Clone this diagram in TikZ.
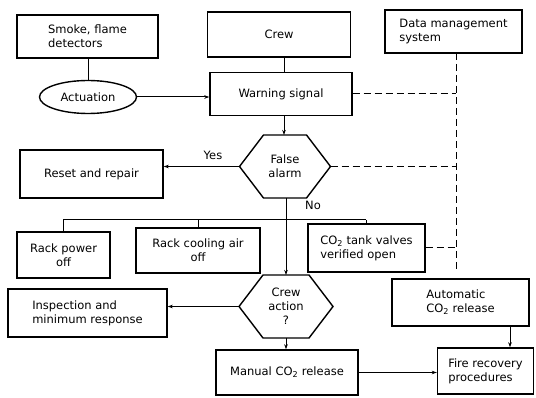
\documentclass[tikz,border=0pt]{standalone}
\usepackage{fontspec}
\setmainfont{DejaVu Sans}
\usetikzlibrary{shapes.geometric,arrows.meta}
\begin{document}
\begin{tikzpicture}[x=1pt,y=-1pt,
  every node/.style={font=\fontsize{11.5}{14}\selectfont},
  box/.style={draw,line width=1.4pt,inner sep=2pt,align=left},
  cbox/.style={draw,line width=1.4pt,inner sep=2pt,align=center},
  hexlbl/.style={draw=none,inner sep=0pt,outer sep=0pt,align=center},
  hexline/.style={line width=1.4pt,line join=miter},
  conn/.style={line width=1pt},
  arr/.style={line width=1pt,-{Stealth[length=5pt,width=3.5pt]}},
  dataline/.style={line width=1pt,dash pattern=on 7pt off 4pt},
  lbl/.style={inner sep=0pt}]
\useasboundingbox (0,0) rectangle (536,398);
% nodes
\node[box,minimum width=141,minimum height=43] (smoke) at (87.5,36.5) {Smoke, flame\\detectors};
\node[draw,ellipse,line width=1.4pt,minimum width=97,minimum height=33,inner sep=0pt] (act) at (88,97) {Actuation};
\node[cbox,minimum width=143,minimum height=45] (crew) at (279,34.5) {Crew};
\node[cbox,minimum width=142,minimum height=43] (warn) at (281,94) {Warning signal};
\node[box,minimum width=137,minimum height=43] (dms) at (453.5,31.5) {Data management\\system};
\node[hexlbl,minimum width=91,minimum height=63] (fa) at (285,166.5) {False\\alarm};
\draw[hexline] (fa.west) -- ([xshift=24pt]fa.north west) -- ([xshift=-24pt]fa.north east) -- (fa.east) -- ([xshift=-24pt]fa.south east) -- ([xshift=24pt]fa.south west) -- cycle;
\node[cbox,minimum width=143,minimum height=48] (reset) at (91.5,174) {Reset and repair};
\node[cbox,minimum width=93,minimum height=46] (rp) at (63.5,255) {Rack power\\off};
\node[cbox,minimum width=124,minimum height=45] (rc) at (198,250.5) {Rack cooling air\\off};
\node[box,minimum width=117,minimum height=48] (co2t) at (366.5,248) {CO\textsubscript{2} tank valves\\verified open};
\node[hexlbl,minimum width=94,minimum height=63] (ca) at (286,306.5) {Crew\\action\\?};
\draw[hexline] (ca.west) -- ([xshift=24pt]ca.north west) -- ([xshift=-24pt]ca.north east) -- (ca.east) -- ([xshift=-24pt]ca.south east) -- ([xshift=24pt]ca.south west) -- cycle;
\node[box,minimum width=159,minimum height=48] (insp) at (87.5,313) {Inspection and\\minimum response};
\node[cbox,minimum width=142,minimum height=45] (man) at (287,372.5) {Manual CO\textsubscript{2} release};
\node[box,minimum width=137,minimum height=47] (auto) at (460.5,302.5) {Automatic\\CO\textsubscript{2} release};
\node[box,minimum width=96,minimum height=46] (fire) at (485.5,371) {Fire recovery\\procedures};
% coordinates
\coordinate (dtop) at (456,53);
\coordinate (dbot) at (456,272);
\coordinate (split) at (286,220);
\coordinate (bl) at (63,220);
\coordinate (br) at (366,220);
% connectors
\draw[conn] (smoke.south -| act.north) -- (act.north);
\draw[arr] (act.east) -- (warn.west |- act.east);
\draw[conn] (crew.south -| 284,0) -- (warn.north -| 284,0);
\draw[arr] (warn.south -| 284,0) -- (fa.north -| 284,0);
\draw[arr] (fa.west) -- (reset.east |- fa.west) node[lbl,pos=0.35,above=6pt] {Yes};
\draw[arr] (fa.south -| ca.north) -- (ca.north);
\node[lbl] (no) at (313,205) {No};
\draw[conn] (bl) -- (br);
\draw[conn] (bl) -- (rp.north -| bl);
\draw[conn] (rc.north |- split) -- (rc.north);
\draw[conn] (br) -- (co2t.north -| br);
\draw[arr] (ca.west) -- (insp.east |- ca.west);
\draw[arr] (ca.south) -- (man.north -| ca.south);
\draw[arr] (man.east) -- (fire.west |- man.east);
\draw[arr] (auto.south -| 510,0) -- (fire.north -| 510,0);
% dashed data links
\draw[dataline] (dtop) -- (dbot);
\draw[dataline] (warn.east) -- (warn.east -| dtop);
\draw[dataline] (fa.east) -- (fa.east -| dtop);
\draw[dataline] (co2t.east) -- (co2t.east -| dtop);
\end{tikzpicture}
\end{document}
